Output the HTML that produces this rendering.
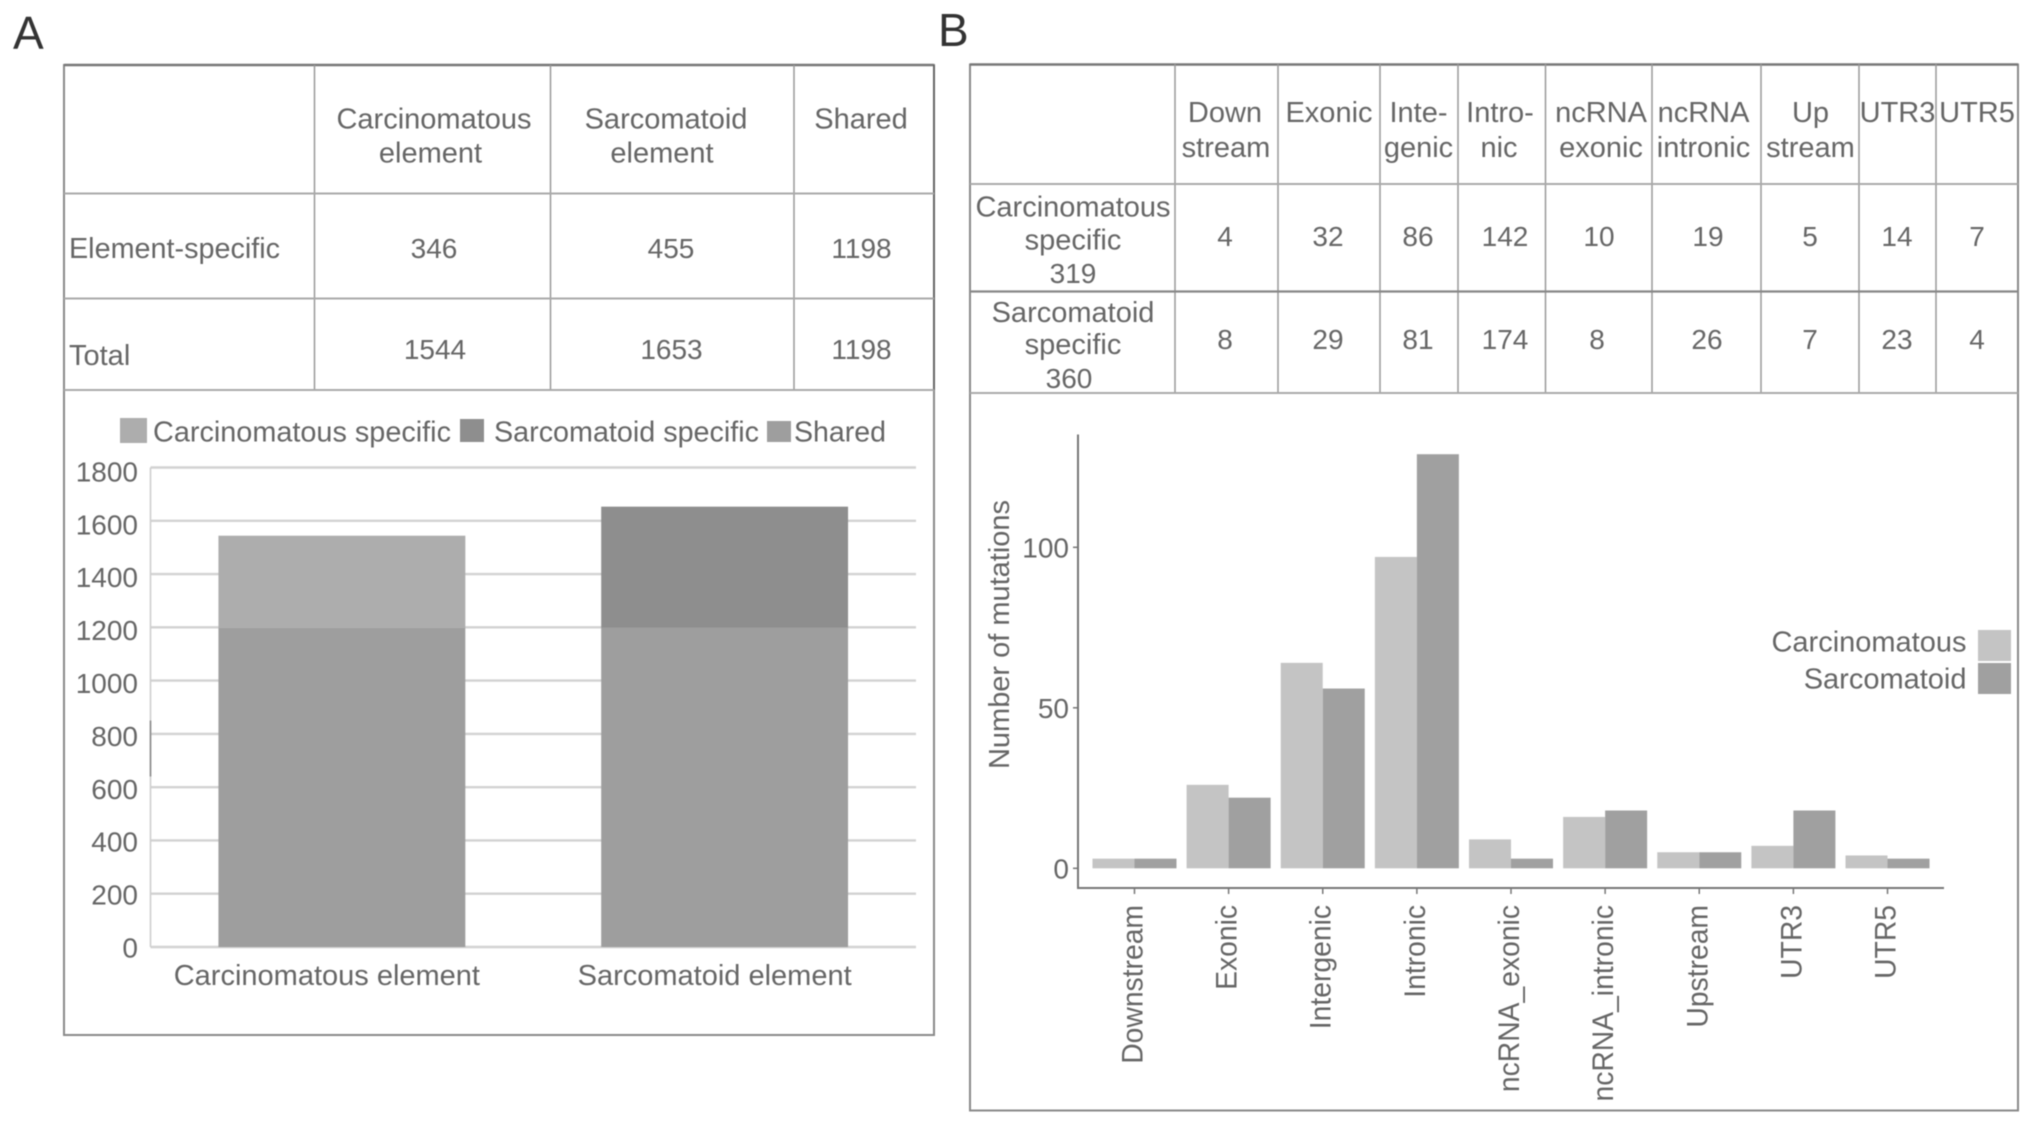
<!DOCTYPE html>
<html lang="en">
<head>
<meta charset="utf-8">
<title>Element-specific mutation tables and charts</title>
<style>
  html, body { margin: 0; padding: 0; background: #fff; }
  svg { display: block; filter: blur(0.5px); }
  text { font-family: "Liberation Sans", sans-serif; font-size: 29px; fill: #666; }
  text.num { font-size: 28px; }
  .mid { text-anchor: middle; }
  .line { stroke: #999; stroke-width: 1.5; fill: none; }
  .hline { stroke: #aaa; stroke-width: 2; fill: none; }
  .outer { stroke: #8a8a8a; stroke-width: 2; fill: none; }
</style>
</head>
<body>
<svg id="fig" xmlns="http://www.w3.org/2000/svg" width="2032" height="1125" viewBox="0 0 2032 1125">
  <rect x="0" y="0" width="2032" height="1125" fill="#fff"/>

  <text x="13" y="49" style="font-size:46px;fill:#333">A</text>
  <text x="938" y="46" style="font-size:46px;fill:#333">B</text>

  <!-- Panel A frame and table -->
  <g>
    <rect class="outer" x="64" y="65" width="870" height="970"/>
    <line x1="64" y1="65" x2="934" y2="65" stroke="#777" stroke-width="2.5"/>
    <line x1="934" y1="65" x2="934" y2="390" stroke="#666" stroke-width="2"/>
    <line class="line" x1="314.5" y1="65" x2="314.5" y2="390"/>
    <line class="line" x1="550.5" y1="65" x2="550.5" y2="390"/>
    <line class="line" x1="794" y1="65" x2="794" y2="390"/>
    <line class="hline" x1="64" y1="193.5" x2="934" y2="193.5"/>
    <line class="hline" x1="64" y1="298.5" x2="934" y2="298.5"/>
    <line class="hline" x1="64" y1="390" x2="934" y2="390"/>
  </g>
  <g>
    <text class="mid" x="434" y="128.5">Carcinomatous</text>
    <text class="mid" x="430.5" y="162.5">element</text>
    <text class="mid" x="666" y="128.5">Sarcomatoid</text>
    <text class="mid" x="662" y="162.5">element</text>
    <text class="mid" x="861" y="128.5">Shared</text>
    <text x="69" y="258" textLength="211" lengthAdjust="spacingAndGlyphs">Element-specific</text>
    <text class="mid num" x="434" y="258">346</text>
    <text class="mid num" x="671" y="258">455</text>
    <text class="mid num" x="861.5" y="258">1198</text>
    <text x="69" y="365">Total</text>
    <text class="mid num" x="435" y="359">1544</text>
    <text class="mid num" x="671.5" y="359">1653</text>
    <text class="mid num" x="861.5" y="359">1198</text>
  </g>

  <!-- Panel A legend -->
  <g>
    <rect x="120" y="418" width="27" height="25" fill="#adadad"/>
    <text x="153" y="441.5" textLength="298" lengthAdjust="spacingAndGlyphs">Carcinomatous specific</text>
    <rect x="460" y="419" width="24" height="23" fill="#8e8e8e"/>
    <text x="494" y="441.5" textLength="265" lengthAdjust="spacingAndGlyphs">Sarcomatoid specific</text>
    <rect x="767" y="421" width="24" height="21" fill="#9e9e9e"/>
    <text x="794" y="441.5" textLength="92" lengthAdjust="spacingAndGlyphs">Shared</text>
  </g>
  <g id="chartA"></g>

  <!-- Panel B frame and table -->
  <g>
    <rect class="outer" x="970" y="64.5" width="1048" height="1046"/>
    <line x1="970" y1="64.5" x2="2018" y2="64.5" stroke="#777" stroke-width="2.5"/>
    <line class="line" x1="1175" y1="64" x2="1175" y2="393"/>
    <line class="line" x1="1278" y1="64" x2="1278" y2="393"/>
    <line class="line" x1="1380" y1="64" x2="1380" y2="393"/>
    <line class="line" x1="1458" y1="64" x2="1458" y2="393"/>
    <line class="line" x1="1545.5" y1="64" x2="1545.5" y2="393"/>
    <line class="line" x1="1652" y1="64" x2="1652" y2="393"/>
    <line class="line" x1="1761" y1="64" x2="1761" y2="393"/>
    <line class="line" x1="1859" y1="64" x2="1859" y2="393"/>
    <line class="line" x1="1936" y1="64" x2="1936" y2="393"/>
    <line class="hline" x1="970" y1="184" x2="2018" y2="184"/>
    <line x1="970" y1="291.5" x2="2018" y2="291.5" stroke="#888" stroke-width="2.2"/>
    <line class="hline" x1="970" y1="393" x2="2018" y2="393"/>
  </g>
  <g>
    <text class="mid" x="1225" y="122">Down</text>
    <text class="mid" x="1226" y="157">stream</text>
    <text class="mid" x="1329" y="122">Exonic</text>
    <text class="mid" x="1418.5" y="122">Inte-</text>
    <text class="mid" x="1418.5" y="157">genic</text>
    <text class="mid" x="1500" y="122">Intro-</text>
    <text class="mid" x="1499" y="157">nic</text>
    <text class="mid" x="1601" y="122">ncRNA</text>
    <text class="mid" x="1601" y="157">exonic</text>
    <text class="mid" x="1703.5" y="122">ncRNA</text>
    <text class="mid" x="1703.5" y="157">intronic</text>
    <text class="mid" x="1810.5" y="122">Up</text>
    <text class="mid" x="1810.5" y="157">stream</text>
    <text class="mid" x="1897.5" y="122">UTR3</text>
    <text class="mid" x="1977" y="122">UTR5</text>

    <text class="mid" x="1073" y="216.5">Carcinomatous</text>
    <text class="mid" x="1073" y="249.5">specific</text>
    <text class="mid num" x="1073" y="283">319</text>
    <text class="mid" x="1073" y="322">Sarcomatoid</text>
    <text class="mid" x="1073" y="354">specific</text>
    <text class="mid num" x="1069" y="388">360</text>

    <text class="mid num" x="1225" y="246">4</text>
    <text class="mid num" x="1328" y="246">32</text>
    <text class="mid num" x="1418" y="246">86</text>
    <text class="mid num" x="1505" y="246">142</text>
    <text class="mid num" x="1599" y="246">10</text>
    <text class="mid num" x="1708" y="246">19</text>
    <text class="mid num" x="1810" y="246">5</text>
    <text class="mid num" x="1897" y="246">14</text>
    <text class="mid num" x="1977" y="246">7</text>

    <text class="mid num" x="1225" y="349">8</text>
    <text class="mid num" x="1328" y="349">29</text>
    <text class="mid num" x="1418" y="349">81</text>
    <text class="mid num" x="1505" y="349">174</text>
    <text class="mid num" x="1597" y="349">8</text>
    <text class="mid num" x="1707" y="349">26</text>
    <text class="mid num" x="1810" y="349">7</text>
    <text class="mid num" x="1897" y="349">23</text>
    <text class="mid num" x="1977" y="349">4</text>
  </g>

  <!-- Panel B legend -->
  <g>
    <text x="1966.5" y="651.5" style="text-anchor:end">Carcinomatous</text>
    <rect x="1978" y="630" width="33" height="31" fill="#c4c4c4"/>
    <text x="1966.5" y="688.5" style="text-anchor:end">Sarcomatoid</text>
    <rect x="1978" y="663" width="33" height="31" fill="#a0a0a0"/>
  </g>
  <text transform="translate(1009,769) rotate(-90)" textLength="269" lengthAdjust="spacingAndGlyphs">Number of mutations</text>
  <g id="chartB"></g>
</svg>

<script>
// Panel A data
const elementCategories = ['Carcinomatous element', 'Sarcomatoid element'];
const sharedValues = [1198, 1198];
const carcinomatousSpecificValues = [346, 0];
const sarcomatoidSpecificValues = [0, 455];
const elementTicks = [0, 200, 400, 600, 800, 1000, 1200, 1400, 1600, 1800];

// Panel B data
const regionCategories = ['Downstream', 'Exonic', 'Intergenic', 'Intronic', 'ncRNA_exonic', 'ncRNA_intronic', 'Upstream', 'UTR3', 'UTR5'];
const carcinomatousMutations = [3, 26, 64, 97, 9, 16, 5, 7, 4];
const sarcomatoidMutations = [3, 22, 56, 129, 3, 18, 5, 18, 3];
const mutationTicks = [0, 50, 100];

const NS = 'http://www.w3.org/2000/svg';
function make(parent, tag, attrs, content) {
  const el = document.createElementNS(NS, tag);
  for (const k in attrs) el.setAttribute(k, attrs[k]);
  if (content !== undefined) el.textContent = content;
  parent.appendChild(el);
  return el;
}

// Panel A scales
const aLeft = 150.5, aRight = 916, aBase = 947, aTop = 467.5, aMax = 1800;
const aY = v => aBase - (v / aMax) * (aBase - aTop);
const aBand = (aRight - aLeft) / elementCategories.length;
const aX = i => aLeft + aBand * (i + 0.5);
const aBarW = aBand * 0.645;
const aTickLabelY = v => 957.5 - v * 0.2645;

const chartA = document.getElementById('chartA');

elementTicks.forEach(t => {
  const grid = make(chartA, 'line', { x1: aLeft, x2: aRight, y1: aY(t), y2: aY(t), stroke: '#d2d2d2', 'stroke-width': 2.4 });
  
  
  const label = make(chartA, 'text', { x: 138, y: aTickLabelY(t), class: 'num', style: 'text-anchor:end' }, String(t));
  
  
});

const aAxis = make(chartA, 'line', { x1: aLeft, x2: aLeft, y1: aTop, y2: aBase, stroke: '#cfcfcf', 'stroke-width': 1.6 });


const aAxisDark = make(chartA, 'line', { x1: aLeft, x2: aLeft, y1: aY(850), y2: aY(640), stroke: '#8a8a8a', 'stroke-width': 1.6 });



elementCategories.forEach((c, i) => {
  const x = aX(i) - aBarW / 2;
  let running = 0;
  const shared = make(chartA, 'rect', { x: x, width: aBarW, y: aY(sharedValues[i]), height: aBase - aY(sharedValues[i]), fill: '#9e9e9e' });
  
  
  running = sharedValues[i];
  const carc = make(chartA, 'rect', { x: x, width: aBarW, y: aY(running + carcinomatousSpecificValues[i]), height: aY(running) - aY(running + carcinomatousSpecificValues[i]), fill: '#adadad' });
  
  
  running += carcinomatousSpecificValues[i];
  const sarc = make(chartA, 'rect', { x: x, width: aBarW, y: aY(running + sarcomatoidSpecificValues[i]), height: aY(running) - aY(running + sarcomatoidSpecificValues[i]), fill: '#8e8e8e' });
  
  
  const label = make(chartA, 'text', { x: aX(i) - 15 + (i * 5), y: 985, class: 'mid' }, c);
  
  
});

// Panel B scales
const bLeft = 1078, bRight = 1944, bAxisY = 888, bTop = 434.5, bZero = 868.3, bUnit = 3.21;
const bStep = (bRight - bLeft) / (regionCategories.length + 0.2);
const bX = i => bLeft + (i + 0.6) * bStep;
const bY = v => bZero - v * bUnit;
const bBarW = 42;

const chartB = document.getElementById('chartB');

regionCategories.forEach((c, i) => {
  const cx = bX(i);
  const a = make(chartB, 'rect', { x: cx - bBarW, width: bBarW, y: bY(carcinomatousMutations[i]), height: bZero - bY(carcinomatousMutations[i]), fill: '#c4c4c4' });
  
  
  const b = make(chartB, 'rect', { x: cx, width: bBarW, y: bY(sarcomatoidMutations[i]), height: bZero - bY(sarcomatoidMutations[i]), fill: '#a0a0a0' });
  
  
  const tick = make(chartB, 'line', { x1: cx, x2: cx, y1: bAxisY, y2: bAxisY + 6, stroke: '#777', 'stroke-width': 1.5 });
  
  
  const label = make(chartB, 'text', { transform: 'translate(' + (cx + 8) + ',905) rotate(-90) scale(1,1.05)', style: 'text-anchor:end;font-size:28.3px' }, c);
  
  
});

mutationTicks.forEach(t => {
  const tick = make(chartB, 'line', { x1: bLeft - 5, x2: bLeft, y1: bY(t), y2: bY(t), stroke: '#777', 'stroke-width': 1.5 });
  
  
  const label = make(chartB, 'text', { x: 1069, y: bY(t) + 10, class: 'num', style: 'text-anchor:end' }, String(t));
  
  
});

const bAxisV = make(chartB, 'line', { x1: bLeft, x2: bLeft, y1: bTop, y2: bAxisY + 1, stroke: '#777', 'stroke-width': 2 });


const bAxisH = make(chartB, 'line', { x1: bLeft, x2: bRight, y1: bAxisY, y2: bAxisY, stroke: '#777', 'stroke-width': 2 });


</script>
</body>
</html>
